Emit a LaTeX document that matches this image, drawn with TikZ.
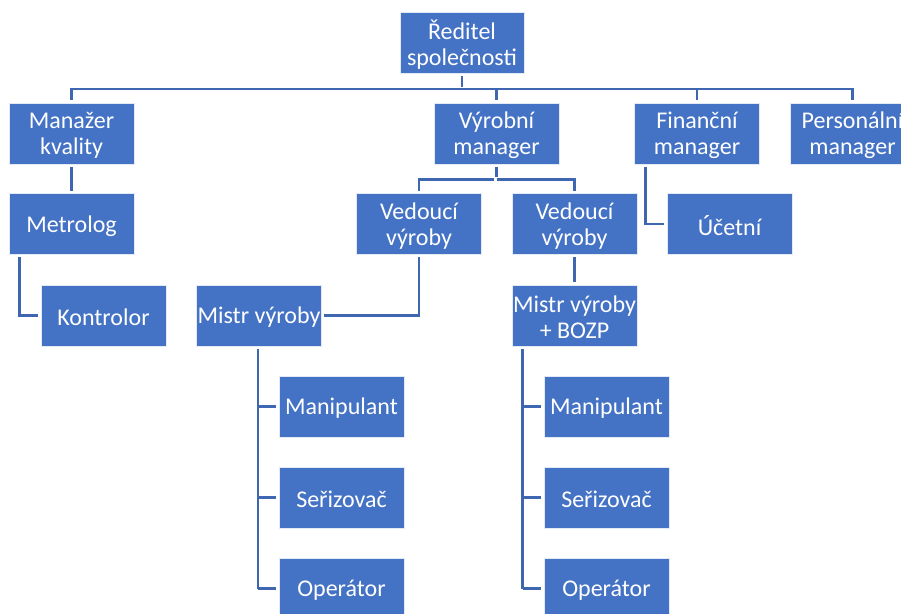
\documentclass[tikz,border=0pt]{standalone}
\usepackage{fontspec}
\setmainfont{Carlito}
\definecolor{boxblue}{HTML}{4472C4}
\definecolor{lineblue}{HTML}{3F67B1}
\begin{document}
\begin{tikzpicture}[x=1pt,y=-1pt,
  unit/.style={rectangle, fill=boxblue, draw=white!85!boxblue, line width=0.8pt,
    minimum width=125pt, minimum height=61pt, inner sep=0pt},
  caption/.style={text=white, font=\fontsize{24}{26}\selectfont, align=center, inner sep=0pt},
  link/.style={draw=lineblue, line width=2.8pt, shorten >=2.5pt},
  bothlink/.style={link, shorten <=2.5pt}]
\useasboundingbox (0,0) rectangle (901,613);
\clip (0,0) rectangle (901,613);

% each box is a plain rectangle; its caption sits 2pt below the centre
\newcommand{\orgbox}[4][]{%
  \node[unit,#1] (#2) at #3 {};
  \node[caption] (#2-t) at ([yshift=-2pt]#2.center) {#4};}

% top level
\orgbox[minimum width=124pt]{dir}{(462,42.5)}{Ředitel\\společnosti}

% second level
\orgbox{mk}{(71.5,133.5)}{Manažer\\kvality}
\orgbox{vm}{(496.5,133.5)}{Výrobní\\manager}
\orgbox{fm}{(697,133.5)}{Finanční\\manager}
\orgbox{pm}{(852.5,133.5)}{Personální\\manager}

% quality branch
\orgbox{met}{(71.5,224)}{Metrolog}
\orgbox{kon}{(103.5,315.5)}{Kontrolor}

% finance branch
\orgbox{ucet}{(729.5,224)}{Účetní}

% production branch
\orgbox{ved1}{(419,224)}{Vedoucí\\výroby}
\orgbox{ved2}{(574.5,224)}{Vedoucí\\výroby}
\orgbox{mis1}{(259,315.5)}{Mistr výroby}
\orgbox{mis2}{(574.5,315.5)}{Mistr výroby\\+ BOZP}

\orgbox{l1}{(341.5,406.5)}{Manipulant}
\orgbox{l2}{(341.5,497.5)}{Seřizovač}
\orgbox{l3}{(341.5,588.5)}{Operátor}
\orgbox{r1}{(606.5,406.5)}{Manipulant}
\orgbox{r2}{(606.5,497.5)}{Seřizovač}
\orgbox{r3}{(606.5,588.5)}{Operátor}

% junction points
\coordinate (bus) at (0,89);
\coordinate (vsplit) at (496.5,179.5);

% director to second level
\draw[bothlink] (mk.north) |- (bus -| pm.north) -- (pm.north);
\draw[link, shorten <=2.5pt] (dir.south) -- (dir.south |- bus);
\draw[link] (vm.north |- bus) -- (vm.north);
\draw[link] (fm.north |- bus) -- (fm.north);

% quality branch
\draw[bothlink] (mk.south) -- (met.north);
\draw[bothlink] ([xshift=11pt]met.south west) |- (kon.west);

% finance branch
\draw[bothlink] ([xshift=11pt]fm.south west) |- (ucet.west);

% production branch
\draw[link, shorten <=2.5pt] (vm.south) -- (vsplit);
\draw[bothlink] (ved1.north) |- (vsplit);
\draw[link] (vsplit) -| (ved2.north);
\draw[bothlink] (ved1.south) |- (mis1.east);
\draw[bothlink] (ved2.south) -- (mis2.north);

% foremen to workers
\draw[link, shorten <=2.5pt, shorten >=0pt] ([xshift=-1pt]mis1.south) -- ([xshift=-1pt]mis1.south |- l3.west);
\foreach \c in {l1,l2,l3}
  \draw[link] ([xshift=-1pt]mis1.south |- \c.west) -- (\c.west);
\draw[link, shorten <=2.5pt, shorten >=0pt] ([xshift=11pt]mis2.south west) -- ([xshift=11pt]mis2.south west |- r3.west);
\foreach \c in {r1,r2,r3}
  \draw[link] ([xshift=11pt]mis2.south west |- \c.west) -- (\c.west);
\end{tikzpicture}
\end{document}
